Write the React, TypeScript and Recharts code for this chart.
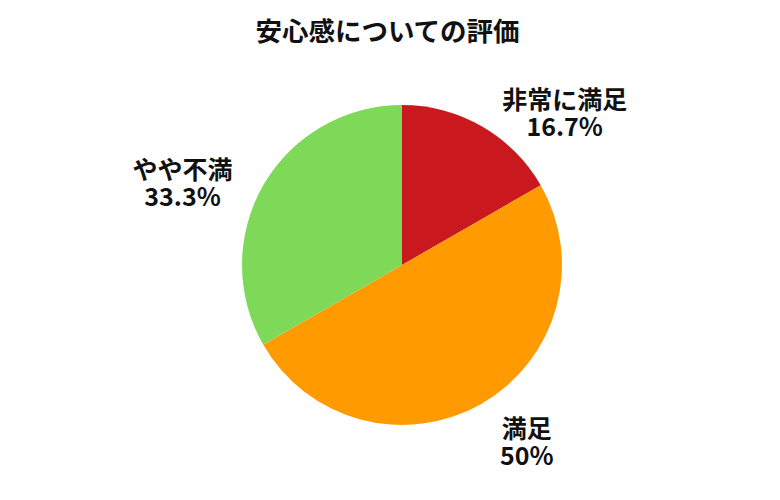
import { PieChart, Pie, Cell } from "recharts";

const categories = ["非常に満足", "満足", "やや不満"];
const values = [16.7, 50, 33.3];
const percentLabels = ["16.7%", "50%", "33.3%"];
const colors = ["#c9191e", "#ff9a00", "#7fd958"];

const chartData = categories.map((name, i) => ({
  name,
  value: values[i],
  pct: percentLabels[i],
}));

const FONT = "'Noto Sans CJK JP', 'Noto Sans', sans-serif";
const LABEL_SIZE = 25;
const RADIAN = Math.PI / 180;

// rough width of a text line, used to centre the two label lines
const textWidth = (s: string, size: number) => {
  let w = 0;
  for (const ch of s) {
    if (ch.charCodeAt(0) > 0x2000) w += size;
    else if (ch === ".") w += size * 0.3;
    else if (ch === "%") w += size * 0.85;
    else w += size * 0.58;
  }
  return w;
};

const renderLabel = (props: any) => {
  const { cx, cy, midAngle, outerRadius, index } = props;
  const r = outerRadius + 30;
  const x = cx + r * Math.cos(-midAngle * RADIAN);
  const y = cy + r * Math.sin(-midAngle * RADIAN);
  const name = categories[index];
  const pct = percentLabels[index];
  const w = Math.max(textWidth(name, LABEL_SIZE), textWidth(pct, LABEL_SIZE));
  const right = x > cx;
  const mid = right ? x + 5 + w / 2 : x - 5 - w / 2;
  const common = {
    textAnchor: "middle" as const,
    fill: "#111",
    fontFamily: FONT,
    fontSize: LABEL_SIZE,
    fontWeight: "bold",
  };
  return (
    <g>
      <text x={mid} y={y} dy="0.35em" {...common}>
        {name}
      </text>
      <text x={mid} y={y + 27} dy="0.35em" {...common}>
        {pct}
      </text>
    </g>
  );
};

export default function App() {
  return (
    <div
      style={{
        position: "absolute",
        left: 0,
        top: 0,
        width: 780,
        height: 500,
        background: "#fff",
      }}
    >
      <div
        style={{
          position: "absolute",
          top: 15,
          left: 0,
          width: 775,
          textAlign: "center",
          fontFamily: FONT,
          fontWeight: "bold",
          fontSize: 26.5,
          lineHeight: "30px",
          color: "#111",
        }}
      >
        安心感についての評価
      </div>
      <PieChart
        width={780}
        height={500}
        margin={{ top: 0, right: 0, bottom: 0, left: 0 }}
      >
        <Pie
          data={chartData}
          dataKey="value"
          nameKey="name"
          cx={402}
          cy={265}
          outerRadius={160}
          startAngle={90}
          endAngle={-270}
          stroke="none"
          label={renderLabel}
          labelLine={false}
          isAnimationActive={false}
        >
          {chartData.map((d, i) => (
            <Cell key={d.name} fill={colors[i]} />
          ))}
        </Pie>
      </PieChart>
    </div>
  );
}
